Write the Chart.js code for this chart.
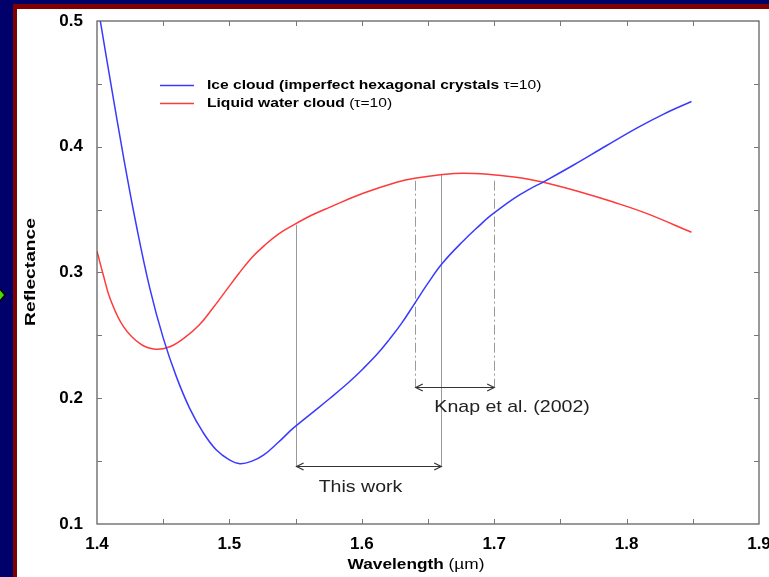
<!DOCTYPE html>
<html><head><meta charset="utf-8">
<script src="https://cdn.jsdelivr.net/npm/chart.js@4/dist/chart.umd.min.js"></script>
<style>html,body{margin:0;padding:0;background:#000066;overflow:hidden}canvas{display:block}</style>
</head><body>
<canvas id="c" width="769" height="577"></canvas>
<script>
// ---- data ----
const iceWavelength = [1.4025,1.410,1.420,1.430,1.440,1.450,1.460,1.470,1.480,1.490,1.500,1.508,1.517,1.526,1.537,1.548,1.562,1.576,1.590,1.601,1.612,1.621,1.630,1.640,1.650,1.661,1.677,1.689,1.697,1.715,1.727,1.738,1.760,1.785,1.808,1.828,1.849];
const iceReflectance = [0.500,0.453,0.392,0.336,0.287,0.248,0.217,0.192,0.173,0.159,0.151,0.148,0.150,0.155,0.165,0.176,0.188,0.200,0.2125,0.2235,0.2355,0.247,0.2595,0.2755,0.2915,0.3075,0.3255,0.3375,0.345,0.359,0.3665,0.3725,0.3855,0.401,0.415,0.426,0.436];
const waterWavelength = [1.400,1.405,1.410,1.420,1.433,1.444,1.455,1.466,1.477,1.487,1.497,1.507,1.517,1.527,1.537,1.548,1.562,1.576,1.601,1.627,1.640,1.661,1.677,1.697,1.715,1.727,1.738,1.765,1.790,1.815,1.849];
const waterReflectance = [0.317,0.297,0.279,0.257,0.243,0.239,0.241,0.248,0.258,0.271,0.285,0.299,0.312,0.322,0.3305,0.3375,0.3455,0.352,0.363,0.372,0.375,0.378,0.379,0.378,0.376,0.374,0.3715,0.364,0.356,0.347,0.332];
const seriesBold = ["Ice cloud (imperfect hexagonal crystals ", "Liquid water cloud "];
const seriesNormal = ["\u03c4=10)", "(\u03c4=10)"];
const xTickValues = [1.4,1.5,1.6,1.7,1.8,1.9];
const yTickValues = [0.1,0.2,0.3,0.4,0.5];
const xTitleBold = "Wavelength", xTitleNormal = " (\u00b5m)";
const yTitle = "Reflectance";
// annotations (data units)
const thisWorkRange = [1.55, 1.66];
const thisWorkTops = [0.338, 0.378];
const thisWorkArrowY = 0.146;
const thisWorkLabel = {text: "This work", x: 1.599, y: 0.129};
const knapRange = [1.64, 1.70];
const knapTops = [0.373, 0.373];
const knapArrowY = 0.209;
const knapLabel = {text: "Knap et al. (2002)", x: 1.7135, y: 0.193};

const FONT = '"Liberation Sans", Arial, Helvetica, sans-serif';
const STRETCH = 1.15;

function sText(ctx, txt, x, y, stretch) {
  ctx.save(); ctx.translate(x, y); ctx.scale(stretch, 1); ctx.fillText(txt, 0, 0); ctx.restore();
}

const bgPlugin = {
  id: 'bg',
  beforeDraw(chart) {
    const ctx = chart.ctx;
    ctx.save();
    ctx.fillStyle = '#00006a'; ctx.fillRect(0, 0, 769, 577);
    ctx.fillStyle = '#800000'; ctx.fillRect(13, 4, 756, 6); ctx.fillRect(13, 4, 4, 573);
    ctx.fillStyle = '#ffffff'; ctx.fillRect(17, 9, 752, 568);
    ctx.beginPath(); ctx.moveTo(-6, 282); ctx.lineTo(5, 295); ctx.lineTo(-6, 308); ctx.closePath();
    ctx.fillStyle = '#44dd00'; ctx.fill(); ctx.lineWidth = 1.5; ctx.strokeStyle = '#000'; ctx.stroke();
    ctx.restore();
  }
};

function arrow(ctx, x1, x2, y) {
  ctx.beginPath(); ctx.moveTo(x1, y); ctx.lineTo(x2, y);
  ctx.moveTo(x1 + 7, y - 3.5); ctx.lineTo(x1, y); ctx.lineTo(x1 + 7, y + 3.5);
  ctx.moveTo(x2 - 7, y - 3.5); ctx.lineTo(x2, y); ctx.lineTo(x2 - 7, y + 3.5);
  ctx.stroke();
}

const decoPlugin = {
  id: 'deco',
  beforeDatasetsDraw(chart) {
    const ctx = chart.ctx, xs = chart.scales.x, ys = chart.scales.y;
    ctx.save();
    ctx.strokeStyle = '#9a9a9a'; ctx.lineWidth = 1;
    for (let i = 0; i < 2; i++) {
      const px = Math.round(xs.getPixelForValue(thisWorkRange[i])) + 0.5;
      ctx.beginPath(); ctx.moveTo(px, ys.getPixelForValue(thisWorkTops[i])); ctx.lineTo(px, ys.getPixelForValue(thisWorkArrowY) + 1); ctx.stroke();
    }
    ctx.setLineDash([10, 3, 2, 3]);
    for (let i = 0; i < 2; i++) {
      const px = Math.round(xs.getPixelForValue(knapRange[i])) + 0.5;
      ctx.beginPath(); ctx.moveTo(px, ys.getPixelForValue(knapTops[i])); ctx.lineTo(px, ys.getPixelForValue(knapArrowY) + 1); ctx.stroke();
    }
    ctx.setLineDash([]);
    ctx.strokeStyle = '#333'; ctx.lineWidth = 1.2;
    arrow(ctx, xs.getPixelForValue(thisWorkRange[0]) + 1, xs.getPixelForValue(thisWorkRange[1]), Math.round(ys.getPixelForValue(thisWorkArrowY)) + 0.5);
    arrow(ctx, xs.getPixelForValue(knapRange[0]) + 1, xs.getPixelForValue(knapRange[1]), Math.round(ys.getPixelForValue(knapArrowY)) + 0.5);
    ctx.fillStyle = '#222'; ctx.font = '17px ' + FONT; ctx.textBaseline = 'middle';
    for (const L of [thisWorkLabel, knapLabel]) {
      const w = ctx.measureText(L.text).width * STRETCH;
      sText(ctx, L.text, xs.getPixelForValue(L.x) - w / 2, ys.getPixelForValue(L.y), STRETCH);
    }
    ctx.restore();
  },
  afterDatasetsDraw(chart) {
    const ctx = chart.ctx, xs = chart.scales.x, ys = chart.scales.y, a = chart.chartArea;
    ctx.save();
    ctx.strokeStyle = '#555'; ctx.lineWidth = 1.2;
    ctx.strokeRect(a.left, a.top, a.right - a.left, a.bottom - a.top);
    ctx.strokeStyle = '#777'; ctx.lineWidth = 1;
    ctx.beginPath();
    for (let k = 1; k < 10; k++) {
      const px = Math.round(xs.getPixelForValue(1.4 + k * 0.05)) + 0.5;
      ctx.moveTo(px, a.bottom); ctx.lineTo(px, a.bottom - 5);
      ctx.moveTo(px, a.top); ctx.lineTo(px, a.top + 5);
    }
    for (let k = 1; k < 8; k++) {
      const py = Math.round(ys.getPixelForValue(0.1 + k * 0.05)) + 0.5;
      ctx.moveTo(a.left, py); ctx.lineTo(a.left + 5, py);
      ctx.moveTo(a.right, py); ctx.lineTo(a.right - 5, py);
    }
    ctx.stroke();
    // legend
    const colors = chart.data.datasets.map(d => d.borderColor);
    const ly = [85, 103];
    const LS = 1.2;
    for (let i = 0; i < 2; i++) {
      ctx.strokeStyle = colors[i]; ctx.lineWidth = 1.4;
      ctx.beginPath(); ctx.moveTo(a.left + 63, ly[i] + 0.5); ctx.lineTo(a.left + 97, ly[i] + 0.5); ctx.stroke();
      ctx.fillStyle = '#000'; ctx.textBaseline = 'middle';
      ctx.font = 'bold 13px ' + FONT;
      let x = a.left + 110;
      sText(ctx, seriesBold[i], x, ly[i], LS);
      x += ctx.measureText(seriesBold[i]).width * LS;
      ctx.font = '13px ' + FONT;
      sText(ctx, seriesNormal[i], x, ly[i], LS);
    }
    // axis titles
    ctx.fillStyle = '#000';
    ctx.font = 'bold 15px ' + FONT;
    const wb = ctx.measureText(xTitleBold).width * STRETCH;
    ctx.font = '15px ' + FONT;
    const wn = ctx.measureText(xTitleNormal).width * STRETCH;
    const cx = (a.left + a.right) / 2 - 12;
    let tx = cx - (wb + wn) / 2;
    ctx.textBaseline = 'middle';
    ctx.font = 'bold 15px ' + FONT; sText(ctx, xTitleBold, tx, 565, STRETCH);
    ctx.font = '15px ' + FONT; sText(ctx, xTitleNormal, tx + wb, 565, STRETCH);
    ctx.save();
    ctx.translate(31, 272); ctx.rotate(-Math.PI / 2);
    ctx.font = 'bold 15px ' + FONT; ctx.textAlign = 'center';
    ctx.scale(1.28, 1); ctx.fillText(yTitle, 0, 0);
    ctx.restore();
    ctx.restore();
  }
};

new Chart(document.getElementById('c'), {
  type: 'line',
  data: {
    datasets: [
      {label: seriesBold[0] + seriesNormal[0], data: iceWavelength.map((x, i) => ({x, y: iceReflectance[i]})),
       borderColor: '#3a3aff', borderWidth: 1.5, pointRadius: 0, tension: 0.4, fill: false},
      {label: seriesBold[1] + seriesNormal[1], data: waterWavelength.map((x, i) => ({x, y: waterReflectance[i]})),
       borderColor: '#ff3a3a', borderWidth: 1.5, pointRadius: 0, tension: 0.4, fill: false}
    ]
  },
  options: {
    responsive: false, animation: false, devicePixelRatio: 1,
    layout: {padding: {left: 17, top: 21, right: 10, bottom: 0}},
    plugins: {legend: {display: false}, tooltip: {enabled: false}},
    scales: {
      x: {type: 'linear', min: 1.4, max: 1.9,
          grid: {display: false, drawTicks: false}, border: {display: false},
          afterBuildTicks: s => { s.ticks = xTickValues.map(v => ({value: v})); },
          afterFit: s => { s.height = 53; s.paddingLeft = 0; s.paddingRight = 0; },
          ticks: {padding: 10, color: '#000', font: {family: FONT, size: 17, weight: 'bold'}, maxRotation: 0, autoSkip: false,
                  callback: v => v.toFixed(1)}},
      y: {type: 'linear', min: 0.1, max: 0.5,
          grid: {display: false, drawTicks: false}, border: {display: false},
          afterBuildTicks: s => { s.ticks = yTickValues.map(v => ({value: v})); },
          afterFit: s => { s.width = 80; s.paddingTop = 0; s.paddingBottom = 0; },
          ticks: {padding: 14, color: '#000', font: {family: FONT, size: 17, weight: 'bold'}, autoSkip: false,
                  callback: v => v.toFixed(1)}}
    }
  },
  plugins: [bgPlugin, decoPlugin]
});
</script>
</body></html>
